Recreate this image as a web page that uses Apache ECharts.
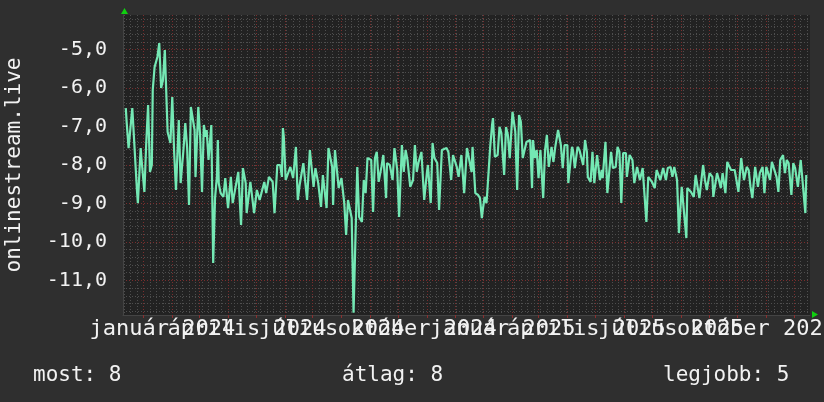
<!DOCTYPE html>
<html>
<head>
<meta charset="utf-8">
<script src="https://cdn.jsdelivr.net/npm/echarts@6/dist/echarts.min.js"></script>
<style>
html,body{margin:0;padding:0;background:#2f2f2f;}
#c{width:824px;height:402px;}
</style>
</head>
<body>
<div id="c"></div>
<script>
// ---- data ----
const startDate = [2023, 11, 10];          // first day shown (UTC y, m0, d)
const spanDays = 739;                      // days shown on the x axis
const dayOffsets = [3,4,6,10,12,15,16,17,19,20,23,24,25,27,28,29,31,32,34,37,39,40,41,43,45,47,48,51,53,55,57,60,62,65,67,69,71,73,75,77,78,81,83,85,87,89,90,92,95,97,98,99,101,102,103,105,108,110,113,116,118,124,127,129,132,133,137,141,144,147,152,154,157,161,163,166,169,171,172,173,175,180,183,186,188,190,194,198,201,203,205,207,210,213,215,217,219,221,225,226,228,230,232,235,238,240,242,244,246,248,252,254,257,259,261,263,267,269,271,273,275,278,280,283,284,287,290,292,295,297,300,302,304,306,309,312,314,316,318,321,324,327,328,331,333,335,338,340,343,344,348,350,353,355,357,359,361,364,367,370,372,375,376,379,382,384,386,387,389,391,392,395,397,398,400,402,403,405,407,410,412,414,416,418,419,422,424,426,428,430,434,438,440,441,443,445,447,449,452,454,456,458,461,463,465,468,471,473,475,478,479,483,484,486,489,491,495,497,499,500,503,505,507,510,513,515,516,519,521,525,527,530,532,534,536,538,541,542,545,548,550,553,556,559,561,563,565,569,572,574,576,578,581,584,586,589,591,593,596,598,601,603,606,607,611,614,616,618,620,624,626,628,631,634,635,639,641,643,645,648,650,654,656,658,660,662,665,668,671,673,675,677,680,683,685,688,690,692,696,698,700,703,705,707,710,712,714,716,719,721,723,726,729,731,734,735];
const values = [-6.52,-6.91,-7.56,-6.52,-6.49,-8.65,-8.99,-8.99,-7.56,-7.87,-8.70,-8.70,-7.43,-6.44,-6.44,-8.18,-8.00,-6.05,-5.45,-5.19,-4.83,-4.83,-6.00,-5.79,-5.01,-6.44,-7.14,-7.43,-6.23,-7.66,-8.65,-6.83,-8.47,-7.61,-6.91,-7.56,-9.04,-6.49,-6.49,-7.09,-8.31,-6.49,-7.27,-8.70,-6.96,-7.27,-7.09,-7.87,-6.96,-10.55,-10.55,-8.86,-8.31,-7.35,-8.47,-8.73,-8.83,-8.34,-9.12,-8.31,-8.99,-8.18,-9.56,-8.08,-8.47,-9.25,-8.44,-9.25,-8.65,-8.91,-8.44,-8.73,-8.31,-8.44,-9.25,-8.00,-8.00,-8.31,-7.04,-7.27,-8.39,-8.05,-8.34,-7.53,-8.91,-8.52,-7.95,-8.91,-7.61,-7.56,-8.57,-8.08,-8.47,-9.09,-8.26,-8.31,-9.12,-7.56,-8.05,-9.04,-7.61,-7.61,-8.60,-8.34,-8.99,-9.82,-8.91,-8.86,-9.38,-11.84,-8.05,-9.35,-9.48,-8.39,-8.73,-7.82,-7.87,-9.22,-7.82,-7.66,-8.44,-8.05,-7.74,-8.86,-7.95,-8.00,-8.39,-7.56,-8.13,-9.35,-7.48,-8.18,-7.61,-7.87,-8.57,-8.39,-7.48,-8.18,-7.92,-7.66,-8.91,-8.18,-8.00,-8.99,-7.43,-7.82,-7.95,-9.17,-7.61,-7.66,-7.56,-7.66,-8.39,-7.74,-7.69,-8.05,-8.31,-7.74,-8.73,-7.56,-7.53,-8.18,-7.53,-8.73,-8.78,-8.86,-9.38,-9.17,-8.83,-8.99,-8.65,-7.53,-6.96,-6.78,-7.79,-7.79,-7.74,-7.01,-7.17,-8.26,-7.01,-7.22,-7.82,-7.82,-6.62,-7.14,-8.65,-6.70,-6.88,-7.82,-7.40,-7.35,-8.60,-7.35,-7.82,-7.61,-8.34,-7.61,-8.86,-7.61,-7.22,-8.05,-7.53,-7.92,-7.53,-7.09,-7.48,-8.08,-7.48,-7.48,-8.47,-7.53,-7.61,-8.08,-7.53,-7.61,-8.00,-7.35,-7.66,-8.31,-8.44,-7.66,-8.47,-7.74,-8.39,-8.13,-8.34,-7.40,-8.73,-7.66,-8.08,-8.05,-7.53,-7.66,-8.99,-7.69,-7.69,-8.31,-7.74,-7.87,-8.47,-8.05,-8.39,-8.08,-8.08,-9.48,-8.31,-8.44,-8.60,-8.13,-8.08,-8.39,-8.08,-8.39,-8.08,-8.05,-8.31,-8.05,-8.39,-9.77,-8.57,-8.52,-9.90,-8.60,-8.70,-8.83,-8.26,-8.31,-8.86,-8.00,-8.39,-8.65,-8.21,-8.31,-8.83,-8.21,-8.39,-8.60,-8.21,-8.73,-7.92,-8.13,-8.18,-8.13,-8.18,-8.70,-7.82,-8.39,-8.05,-8.13,-8.57,-8.86,-8.05,-8.57,-8.21,-8.05,-8.73,-8.05,-8.39,-7.92,-7.95,-8.31,-8.70,-7.87,-7.74,-8.21,-7.87,-7.95,-8.78,-7.95,-8.08,-8.57,-7.87,-7.92,-9.25,-8.26];
const monthNames = ['január','február','március','április','május','június','július','augusztus','szeptember','október','november','december'];
const labelMonths = [[2024,0],[2024,3],[2024,6],[2024,9],[2025,0],[2025,3],[2025,6],[2025,9]];
const yMin = -11.9, yMax = -4.1;
const yLabelValues = [-11,-10,-9,-8,-7,-6,-5];
const axisTitle = 'onlinestream.live';
const legendTexts = ['most: 8', 'átlag: 8', 'legjobb: 5'];

// ---- build (x axis counted in days from startDate) ----
const DAY = 86400000;
const t0 = Date.UTC(startDate[0], startDate[1], startDate[2]);
const dayOf = (y, m, d) => Math.round((Date.UTC(y, m, d) - t0) / DAY);
const seriesData = dayOffsets.map((d, i) => [d, values[i]]);

const monthTicks = [];
for (let y = 2023; y <= 2026; y++) for (let m = 0; m < 12; m++) {
  const d = dayOf(y, m, 1);
  if (d > 0 && d < spanDays) monthTicks.push(d);
}
const weekTicks = [];
for (let d = dayOf(2023, 11, 11); d < spanDays; d += 7) if (d > 0) weekTicks.push(d);

const labelTicks = labelMonths.map(p => dayOf(p[0], p[1], 1));
const labelText = {};
labelMonths.forEach((p, i) => { labelText[labelTicks[i]] = monthNames[p[1]] + ' ' + p[0]; });
// RRDtool lets neighbouring labels overlap; ECharts would hide them, so alternate labels go on two axes
const labelsA = labelTicks.filter((_, i) => i % 2 === 0);
const labelsB = labelTicks.filter((_, i) => i % 2 === 1);

const minorY = [];
for (let k = Math.ceil(yMin * 5); k <= Math.floor(yMax * 5); k++) if (k % 5 !== 0) minorY.push(k / 5);

const FONT = 'DejaVu Sans Mono';
const txt = '#f2f2f2';
const labelAxis = (vals) => ({
  type: 'value', position: 'bottom', min: 0, max: spanDays,
  axisLine: {show: false}, axisTick: {show: false}, splitLine: {show: false},
  axisLabel: {show: true, customValues: vals, hideOverlap: false, showMinLabel: true, showMaxLabel: true,
    color: txt, fontFamily: FONT, fontSize: 22, margin: 3,
    padding: [0, 0, 0, 38], formatter: v => labelText[Math.round(v)] || ''}
});
const chart = echarts.init(document.getElementById('c'), null, {renderer: 'canvas'});
chart.setOption({
  backgroundColor: '#2f2f2f',
  animation: false,
  grid: {left: 123, top: 15, width: 687, height: 300, show: true, backgroundColor: '#222222', borderWidth: 0, outerBoundsMode: 'none', containLabel: false},
  xAxis: [
    {type: 'value', position: 'bottom', min: 0, max: spanDays, axisLine: {show: false}, axisLabel: {show: false},
     axisTick: {show: false, customValues: weekTicks},
     splitLine: {show: true, lineStyle: {color: '#4e4e4e', type: [1, 2], width: 1}}},
    {type: 'value', position: 'bottom', min: 0, max: spanDays,
     axisLine: {show: true, lineStyle: {color: '#444', width: 1}},
     axisTick: {show: true, customValues: monthTicks, length: 3, inside: false, lineStyle: {color: '#8a3030'}},
     axisLabel: {show: false},
     splitLine: {show: true, lineStyle: {color: '#7a2e2e', type: [1, 2], width: 1}}},
    labelAxis(labelsA),
    labelAxis(labelsB)
  ],
  yAxis: [
    {type: 'value', min: yMin, max: yMax, position: 'left', axisLine: {show: false}, axisLabel: {show: false},
     axisTick: {show: false, customValues: minorY},
     splitLine: {show: true, lineStyle: {color: '#4e4e4e', type: [1, 2], width: 1}}},
    {type: 'value', min: yMin, max: yMax, position: 'left',
     axisLine: {show: true, lineStyle: {color: '#444', width: 1}},
     axisTick: {show: false, customValues: yLabelValues},
     axisLabel: {show: true, customValues: yLabelValues, color: txt, fontFamily: FONT, fontSize: 20, margin: 16,
       formatter: v => v.toFixed(1).replace('.', ',')},
     splitLine: {show: true, lineStyle: {color: '#7a2e2e', type: [1, 2], width: 1}},
     name: axisTitle, nameLocation: 'middle', nameRotate: 90, nameGap: 98,
     nameTextStyle: {color: txt, fontFamily: FONT, fontSize: 21}}
  ],
  series: [{
    type: 'line', xAxisIndex: 1, yAxisIndex: 1, data: seriesData,
    showSymbol: false, symbol: 'none', smooth: false,
    lineStyle: {color: '#74e8b4', width: 2.2}, itemStyle: {color: '#74e8b4'}
  }],
  graphic: [
    {type: 'polygon', shape: {points: [[121, 14], [128, 14], [124.5, 8]]}, style: {fill: '#10d010'}},
    {type: 'polygon', shape: {points: [[812, 311], [812, 318], [818, 314.5]]}, style: {fill: '#10d010'}},
    {type: 'text', left: 33, top: 365, style: {text: legendTexts[0], fill: txt, font: '21px "DejaVu Sans Mono"'}},
    {type: 'text', left: 342, top: 365, style: {text: legendTexts[1], fill: txt, font: '21px "DejaVu Sans Mono"'}},
    {type: 'text', left: 663, top: 365, style: {text: legendTexts[2], fill: txt, font: '21px "DejaVu Sans Mono"'}}
  ]
});
</script>
</body>
</html>
